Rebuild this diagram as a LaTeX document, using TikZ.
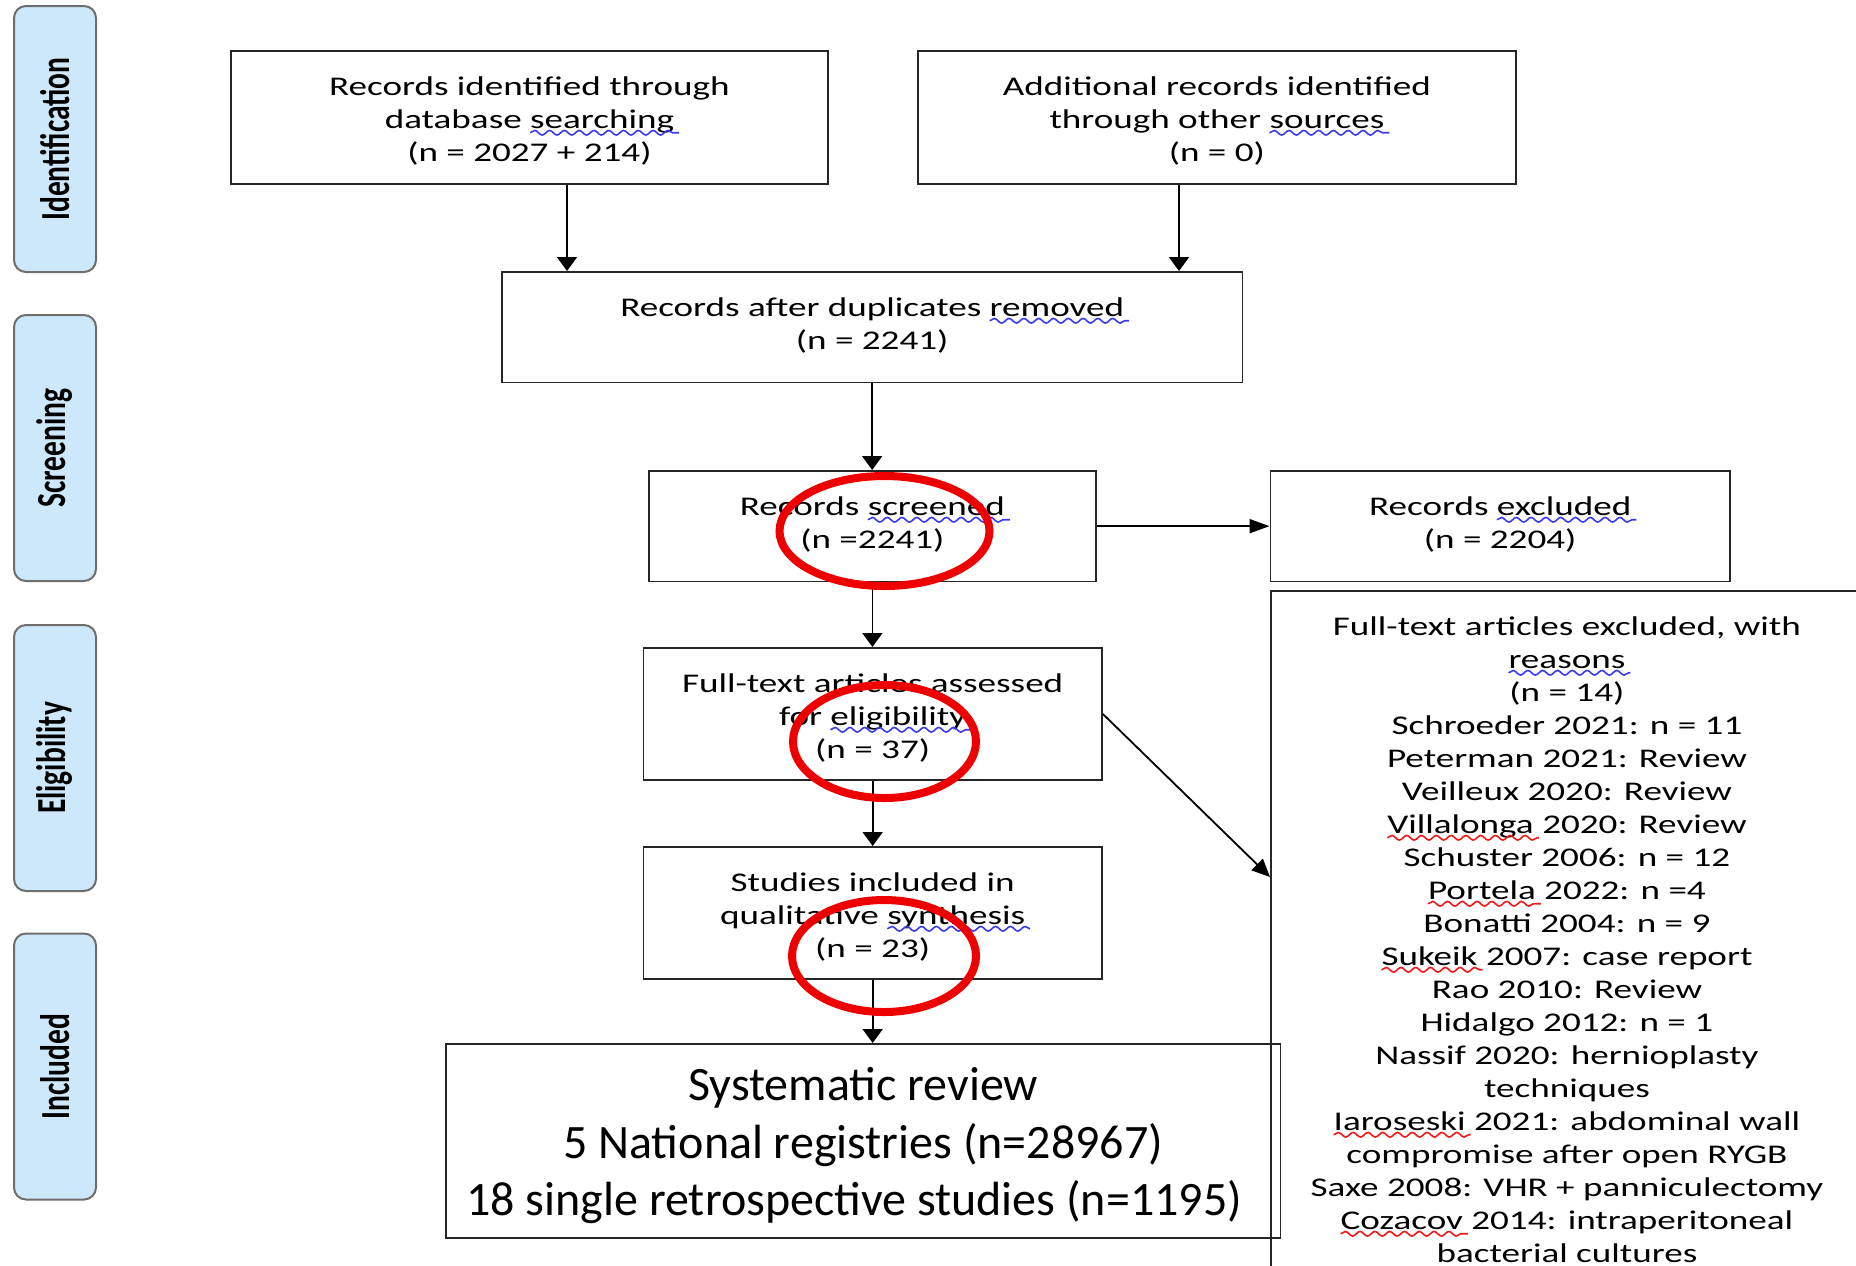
\documentclass[tikz,border=0pt]{standalone}
\usepackage{fontspec}
\setmainfont{Carlito}
\usetikzlibrary{arrows.meta,decorations.pathmorphing}
\newfontfamily\boxfont[FakeStretch=1.375]{Carlito}
\newfontfamily\tabfamily{Carlito}
\definecolor{tabfill}{HTML}{CDE8FA}
\definecolor{tabline}{HTML}{6E6E6E}
\definecolor{wblue}{HTML}{3A3AF0}
\definecolor{wred}{HTML}{F01818}
\definecolor{ovalred}{HTML}{EE0000}
\newcommand\wv[2]{\tikz[baseline=(w.base)]{\node[draw=none,fill=none,inner sep=0pt,outer sep=0pt,minimum width=0pt,minimum height=0pt,anchor=base,rotate=0] (w) {#2};\draw[overlay,#1,line width=0.8pt,decorate,decoration={snake,amplitude=1.15pt,segment length=7.4pt}] ([yshift=-2.3pt]w.base west) -- ([yshift=-2.3pt,xshift=2.5pt]w.base east);}}
\tikzset{
  box/.style={draw=black!85, line width=0.9pt, inner sep=0pt, anchor=north west},
  btext/.style={align=center, inner sep=0pt, anchor=north, yshift=-13pt,
    font=\boxfont\fontsize{13.5pt}{16.5pt}\selectfont},
  tab/.style={draw=tabline, fill=tabfill, line width=1pt, rounded corners=6pt, rotate=90,
    minimum width=133pt, minimum height=41pt, inner sep=0pt,
    font=\tabfamily\bfseries\fontsize{14.75pt}{16pt}\selectfont},
  arrv/.style={-{Triangle[length=7pt,width=10pt]}, line width=0.9pt, draw=black},
  arrh/.style={-{Triangle[length=10pt,width=7pt]}, line width=0.9pt, draw=black},
  arrd/.style={-{Triangle[length=9pt,width=8pt]}, line width=0.9pt, draw=black},
  oval/.style={draw=ovalred, line width=4pt}
}
\begin{document}
\begin{tikzpicture}[x=0.5pt,y=-0.5pt]
\useasboundingbox (0,0) rectangle (1856,1265);
\fill[white] (0,0) rectangle (1856,1265);
\clip (0,0) rectangle (1856,1265);
% side tabs
\node[tab] (t1) at (55,139) {\scalebox{1}[1.4]{Identification}};
\node[tab] (t2) at (55,448) {\scalebox{1}[1.4]{Screening}};
\node[tab] (t3) at (55,758) {\scalebox{1}[1.4]{Eligibility}};
\node[tab] (t4) at (55,1066.5) {\scalebox{1}[1.4]{Included}};
% boxes
\node[box, minimum width=298.5pt, minimum height=66.5pt] (b1) at (230,50) {};
\node[btext] (b1t) at (b1.north)
  {Records identified through\\database \wv{wblue}{searching}\\(n = 2027 + 214)};
\node[box, minimum width=299pt, minimum height=66.5pt] (b2) at (917,50) {};
\node[btext] (b2t) at (b2.north)
  {Additional records identified\\through other \wv{wblue}{sources}\\(n = 0)};
\node[box, minimum width=370.25pt, minimum height=55.25pt] (b3) at (501,271) {};
\node[btext] (b3t) at (b3.north)
  {Records after duplicates \wv{wblue}{removed}\\(n = 2241)};
\node[box, minimum width=223.5pt, minimum height=55.25pt] (b4) at (648,470) {};
\node[btext] (b4t) at (b4.north)
  {Records \wv{wblue}{screened}\\(n =2241)};
\node[box, minimum width=229.75pt, minimum height=55.25pt] (b5) at (1269.5,470) {};
\node[btext] (b5t) at (b5.north)
  {Records \wv{wblue}{excluded}\\(n = 2204)};
\node[box, minimum width=229.25pt, minimum height=66pt] (b6) at (642.5,647) {};
\node[btext] (b6t) at (b6.north)
  {Full-text articles assessed\\for \wv{wblue}{eligibility}\\(n = 37)};
\node[box, minimum width=229.25pt, minimum height=66pt] (b7) at (642.5,846) {};
\node[btext] (b7t) at (b7.north)
  {Studies included in\\qualitative \wv{wblue}{synthesis}\\(n = 23)};
\node[box, minimum width=417.25pt, minimum height=97pt] (b8) at (445,1043) {};
\node[btext, yshift=1pt, font=\fontsize{24pt}{28.75pt}\selectfont] (b8t) at (b8.north)
  {Systematic review\\5 National registries (n=28967)\\18 single retrospective studies (n=1195)\hspace*{9pt}};
\node[box, minimum width=296pt, minimum height=355pt] (b9) at (1270,590) {};
\node[btext] (b9t) at (b9.north)
  {Full-text articles excluded, with\\\wv{wblue}{reasons}\\(n = 14)\\Schroeder 2021: n = 11\\Peterman 2021: Review\\Veilleux 2020: Review\\\wv{wred}{Villalonga} 2020: Review\\Schuster 2006: n = 12\\\wv{wred}{Portela} 2022: n =4\\Bonatti 2004: n = 9\\\wv{wred}{Sukeik} 2007: case report\\Rao 2010: Review\\Hidalgo 2012: n = 1\\Nassif 2020: hernioplasty\\techniques\\\wv{wred}{Iaroseski} 2021: abdominal wall\\compromise after open RYGB\\Saxe 2008: VHR + panniculectomy\\\wv{wred}{Cozacov} 2014: intraperitoneal\\bacterial cultures};
% connectors
\coordinate (x1) at (567,0);
\coordinate (x2) at (1179,0);
\coordinate (exin) at (1270,877);
\draw[arrv] (x1 |- b1.south) -- (x1 |- b3.north);
\draw[arrv] (x2 |- b2.south) -- (x2 |- b3.north);
\draw[arrv] (b3.south) -- (b3.south |- b4.north);
\draw[arrh] (b4.east) -- (b4.east -| b5.west);
\draw[arrv] (b4.south) -- (b4.south |- b6.north);
\draw[arrv] (b6.south) -- (b6.south |- b7.north);
\draw[arrv] (b7.south) -- (b7.south |- b8.north);
\draw[arrd] (b6.east) -- (exin);
% red ovals
\draw[oval] (884.5,531) ellipse [x radius=105, y radius=55];
\draw[oval] (884.5,741.5) ellipse [x radius=91.5, y radius=56.5];
\draw[oval] (884,956) ellipse [x radius=92, y radius=56];
\end{tikzpicture}
\end{document}
